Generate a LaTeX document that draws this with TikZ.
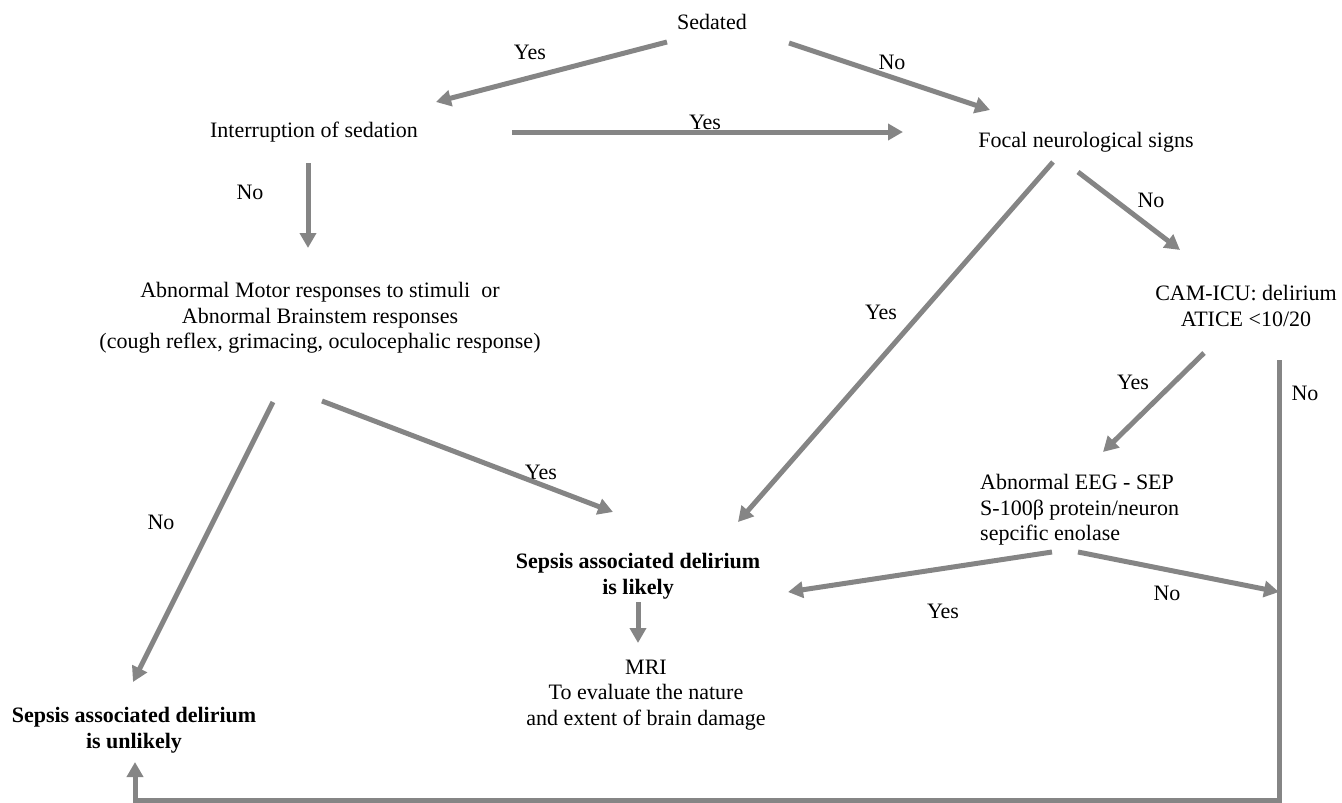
\documentclass[tikz,border=0pt]{standalone}
\usepackage{fontspec}
\setmainfont{Liberation Serif}
\usetikzlibrary{arrows.meta}
\definecolor{arrgray}{RGB}{133,133,133}
\begin{document}
\begin{tikzpicture}[x=1pt,y=-1pt,
  txt/.style={inner sep=0pt,align=center,font=\fontsize{22}{25.5}\selectfont},
  btxt/.style={txt,font=\fontsize{22}{26}\selectfont\bfseries},
  lbl/.style={inner sep=0pt,font=\fontsize{22}{25.5}\selectfont},
  arr/.style={draw=arrgray,line width=5pt,line join=miter,
    -{Triangle[length=15pt,width=16pt]}},
  plain/.style={draw=arrgray,line width=5pt,line join=miter}]
\useasboundingbox (0,0) rectangle (1342,803);
% nodes
\node[txt] (sed) at (712,22) {Sedated};
\node[txt] (int) at (314,132) {Interruption of sedation};
\node[txt] (foc) at (1086,142) {Focal neurological signs};
\node[txt] (mot) at (320,318) {Abnormal Motor responses to stimuli\ \ or\\Abnormal Brainstem responses\\(cough reflex, grimacing, oculocephalic response)};
\node[txt] (cam) at (1246,306) {CAM-ICU: delirium\\ATICE <10/20};
\node[txt,anchor=west,align=left] (eeg) at (980,510) {Abnormal EEG - SEP\\S-100β protein/neuron\\sepcific enolase};
\node[btxt] (lik) at (638,576) {Sepsis associated delirium\\is likely};
\node[txt] (mri) at (646,695) {MRI\\To evaluate the nature\\and extent of brain damage};
\node[btxt] (unl) at (134,730) {Sepsis associated delirium\\is unlikely};
% labels
\node[lbl] (l1) at (530,52) {Yes};
\node[lbl] (l2) at (892,62) {No};
\node[lbl] (l3) at (705,122) {Yes};
\node[lbl] (l4) at (250,192) {No};
\node[lbl] (l5) at (1151,200) {No};
\node[lbl] (l6) at (881,312) {Yes};
\node[lbl] (l7) at (1133,382) {Yes};
\node[lbl] (l8) at (1305,393) {No};
\node[lbl] (l9) at (541,472) {Yes};
\node[lbl] (l10) at (161,522) {No};
\node[lbl] (l11) at (943,611) {Yes};
\node[lbl] (l12) at (1167,593) {No};
% helper coordinates
\coordinate (nr) at ([shift={(33,54)}]cam.center);
\coordinate (bot) at ([shift={(1,70)}]unl.center);
\coordinate (eegr) at ([shift={(0,82)}]eeg.west);
\coordinate (join) at (nr |- eegr);
% connectors
\draw[arr] ([shift={(-45,20)}]sed.center) -- ([shift={(122,-30)}]int.center);
\draw[arr] ([shift={(77,21)}]sed.center) -- ([shift={(-96,-32)}]foc.center);
\draw[arr] ([shift={(198,0)}]int.center) -- ([shift={(-183,-10)}]foc.center);
\draw[arr] ([shift={(-6,31)}]int.center) -- ([shift={(-12,-70)}]mot.center);
\draw[arr] ([shift={(-8,30)}]foc.center) -- ([shift={(-66,-56)}]cam.center);
\draw[arr] ([shift={(-33,20)}]foc.center) -- ([shift={(100,-54)}]lik.center);
\draw[arr] ([shift={(-42,47)}]cam.center) -- ([shift={(123,-58)}]eeg.west);
\draw[arr] ([shift={(2,83)}]mot.center) -- ([shift={(-25,-64)}]lik.center);
\draw[arr] ([shift={(-47,84)}]mot.center) -- ([shift={(-1,-48)}]unl.center);
\draw[arr] ([shift={(72,42)}]eeg.west) -- ([shift={(150,16)}]lik.center);
\draw[arr] ([shift={(98,42)}]eeg.west) -- (join);
\draw[arr] (nr) -- (nr |- bot) -- (bot) -- ([shift={(1,32)}]unl.center);
\draw[arr] ([shift={(0,26)}]lik.center) -- ([shift={(-8,-52)}]mri.center);
\end{tikzpicture}
\end{document}
